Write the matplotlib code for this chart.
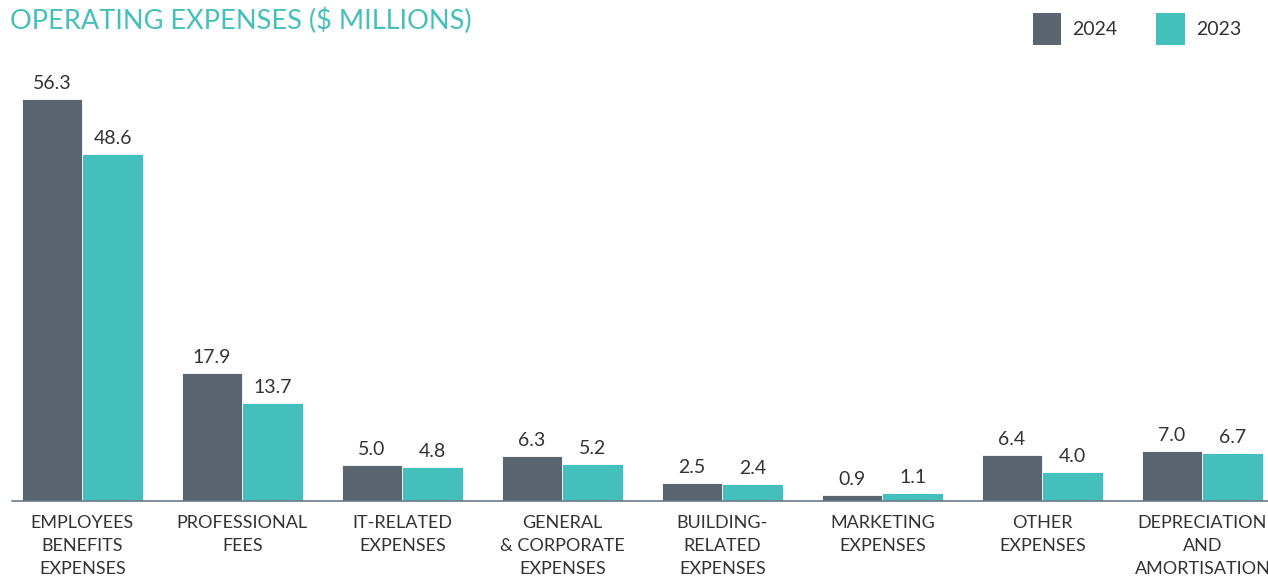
"""Operating expenses bar chart, 2024 vs 2023."""

import matplotlib.pyplot as plt
import numpy as np
from matplotlib.patches import Patch

categories = [
    "EMPLOYEES\nBENEFITS\nEXPENSES",
    "PROFESSIONAL\nFEES",
    "IT-RELATED\nEXPENSES",
    "GENERAL\n& CORPORATE\nEXPENSES",
    "BUILDING-\nRELATED\nEXPENSES",
    "MARKETING\nEXPENSES",
    "OTHER\nEXPENSES",
    "DEPRECIATION\nAND\nAMORTISATION",
]
values_2024 = [56.3, 17.9, 5.0, 6.3, 2.5, 0.9, 6.4, 7.0]
values_2023 = [48.6, 13.7, 4.8, 5.2, 2.4, 1.1, 4.0, 6.7]
series_labels = ["2024", "2023"]

COLOR_2024 = "#5b6570"
COLOR_2023 = "#43c0bc"
TITLE_COLOR = "#45bfbb"
TEXT_COLOR = "#333333"

plt.rcParams["font.family"] = ["Lato", "DejaVu Sans"]


def main():
    fig = plt.figure(figsize=(12.68, 5.79), dpi=100)
    ax = fig.add_axes([12 / 1268, 1 - 501 / 579, 1256 / 1268, 441 / 579])

    x = np.arange(len(categories))
    width = 0.38
    bars1 = ax.bar(x - width / 2, values_2024, width, color=COLOR_2024,
                   edgecolor="white", linewidth=0.6, zorder=2)
    bars2 = ax.bar(x + width / 2, values_2023, width, color=COLOR_2023,
                   edgecolor="white", linewidth=0.6, zorder=2)

    for bar in list(bars1) + list(bars2):
        h = bar.get_height()
        ax.annotate(f"{h:.1f}", xy=(bar.get_x() + bar.get_width() / 2, h),
                    xytext=(0, 5), textcoords="offset points",
                    ha="center", va="bottom", fontsize=14, color=TEXT_COLOR)

    ax.set_xlim(-0.44, 7.41)
    ax.set_ylim(0, 61.7)
    ax.set_xticks(x)
    ax.set_xticklabels(categories, fontsize=13, color=TEXT_COLOR,
                       linespacing=1.55)
    ax.tick_params(axis="x", length=0, pad=10)
    ax.set_yticks([])
    for side in ["top", "right", "left"]:
        ax.spines[side].set_visible(False)
    ax.spines["bottom"].set_color("#6b7a88")
    ax.spines["bottom"].set_linewidth(1.2)
    ax.spines["bottom"].set_zorder(3)

    fig.text(10 / 1268, 1 - 8 / 579, "OPERATING EXPENSES ($ MILLIONS)",
             ha="left", va="top", fontsize=19.5, color=TITLE_COLOR)

    handles = [Patch(facecolor=COLOR_2024), Patch(facecolor=COLOR_2023)]
    fig.legend(handles, series_labels, loc="upper right",
               bbox_to_anchor=(1259 / 1268, 1 + 4 / 579), ncol=2,
               frameon=False, fontsize=14, handlelength=1.45, handleheight=2.1,
               handletextpad=0.6, columnspacing=2.0, labelcolor=TEXT_COLOR)

    fig.savefig("out.png", dpi=100)
    plt.close(fig)


if __name__ == "__main__":
    main()
